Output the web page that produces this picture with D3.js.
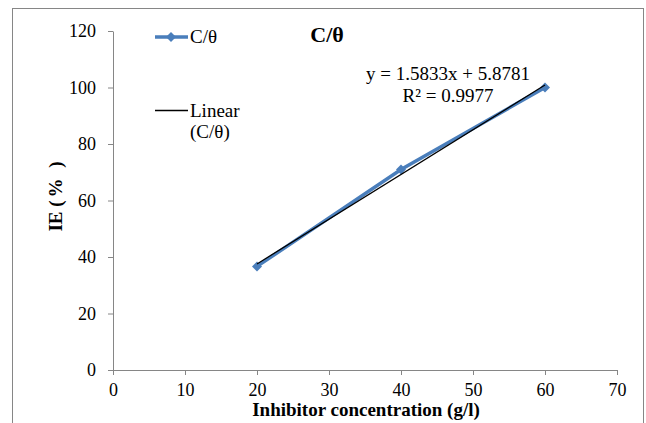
<!DOCTYPE html>
<html><head><meta charset="utf-8">
<script src="https://cdn.jsdelivr.net/npm/d3@7"></script>
<style>body{margin:0;background:#fff}svg{display:block}</style>
</head><body>
<svg id="c" width="646" height="423"></svg>
<script>
const seriesName = "C/θ";
const concentrations = [20, 40, 60];
const ieValues = [36.67, 70.96, 100.0];
const fitSlope = 1.5833, fitIntercept = 5.8781;
const fitLabel = "y = 1.5833x + 5.8781";
const r2Label = "R² = 0.9977";
const xTicks = [0,10,20,30,40,50,60,70];
const yTicks = [0,20,40,60,80,100,120];

const FONT = "'Liberation Serif'";
const svg = d3.select("#c");
svg.append("rect").attr("x",12.5).attr("y",8.5).attr("width",631).attr("height",430)
  .attr("fill","#fff").attr("stroke","#868686").attr("stroke-width",1);

const x = d3.scaleLinear().domain([0,70]).range([113,617]);
const y = d3.scaleLinear().domain([0,120]).range([370,31]);
const axisColor = "#868686";

const xa = svg.append("g").attr("transform","translate(0,370)")
  .call(d3.axisBottom(x).tickValues(xTicks).tickSize(5).tickSizeOuter(0).tickPadding(8));
const ya = svg.append("g").attr("transform","translate(113,0)")
  .call(d3.axisLeft(y).tickValues(yTicks).tickSize(5).tickSizeOuter(0).tickPadding(12));
[xa,ya].forEach(g=>{
  g.attr("font-family", null);
  g.selectAll("path,line").attr("stroke",axisColor);
  g.selectAll("text").style("font-family",FONT).attr("font-size",18).attr("fill","#000");
});
xa.selectAll("text").attr("dy","0.71em");

const blue = "#4a7ebb";
const pts = concentrations.map((c,i)=>[c, ieValues[i]]);
const line = d3.line().x(d=>x(d[0])).y(d=>y(d[1]));
svg.append("path").datum(pts).attr("d",line).attr("fill","none")
  .attr("stroke",blue).attr("stroke-width",3.5);
const sym = d3.symbol().type(d3.symbolSquare).size(50);
svg.selectAll(".m").data(pts).join("path").attr("class","m")
  .attr("transform",d=>`translate(${x(d[0])},${y(d[1])}) rotate(45)`).attr("d",sym).attr("fill",blue);

const fx = d3.extent(concentrations);
svg.append("path").datum(fx.map(v=>[v, fitSlope*v+fitIntercept])).attr("d",line)
  .attr("fill","none").attr("stroke","#000").attr("stroke-width",1.3);

const T = (xx,yy,s,size,opts={}) => {
  const t = svg.append("text").attr("x",xx).attr("y",yy).attr("font-size",size).style("font-family",FONT).text(s);
  if (opts.anchor) t.attr("text-anchor",opts.anchor);
  if (opts.bold) t.attr("font-weight","bold");
  return t;
};

// legend
svg.append("line").attr("x1",155).attr("x2",188).attr("y1",37).attr("y2",37)
  .attr("stroke",blue).attr("stroke-width",3.5);
svg.append("path").attr("transform","translate(171,37) rotate(45)").attr("d",sym).attr("fill",blue);
T(190,43,seriesName,19);
svg.append("line").attr("x1",155).attr("x2",188).attr("y1",110.5).attr("y2",110.5)
  .attr("stroke","#000").attr("stroke-width",1.3);
T(190,117,"Linear",19);
T(190,138,"(" + seriesName + ")",19);

// title
T(327,42,seriesName,22,{anchor:"middle",bold:true});

// equation
T(448,80,fitLabel,19,{anchor:"middle"});
T(448,102,r2Label,19,{anchor:"middle"});

// axis titles
T(366,416,"Inhibitor concentration (g/l)",19,{anchor:"middle",bold:true});
const yt = T(0,0,"",19,{anchor:"middle",bold:true}).attr("transform","translate(62,195) rotate(-90)");
yt.append("tspan").text("IE ");
yt.append("tspan").attr("letter-spacing",3).text("(% )");
</script>
</body></html>
